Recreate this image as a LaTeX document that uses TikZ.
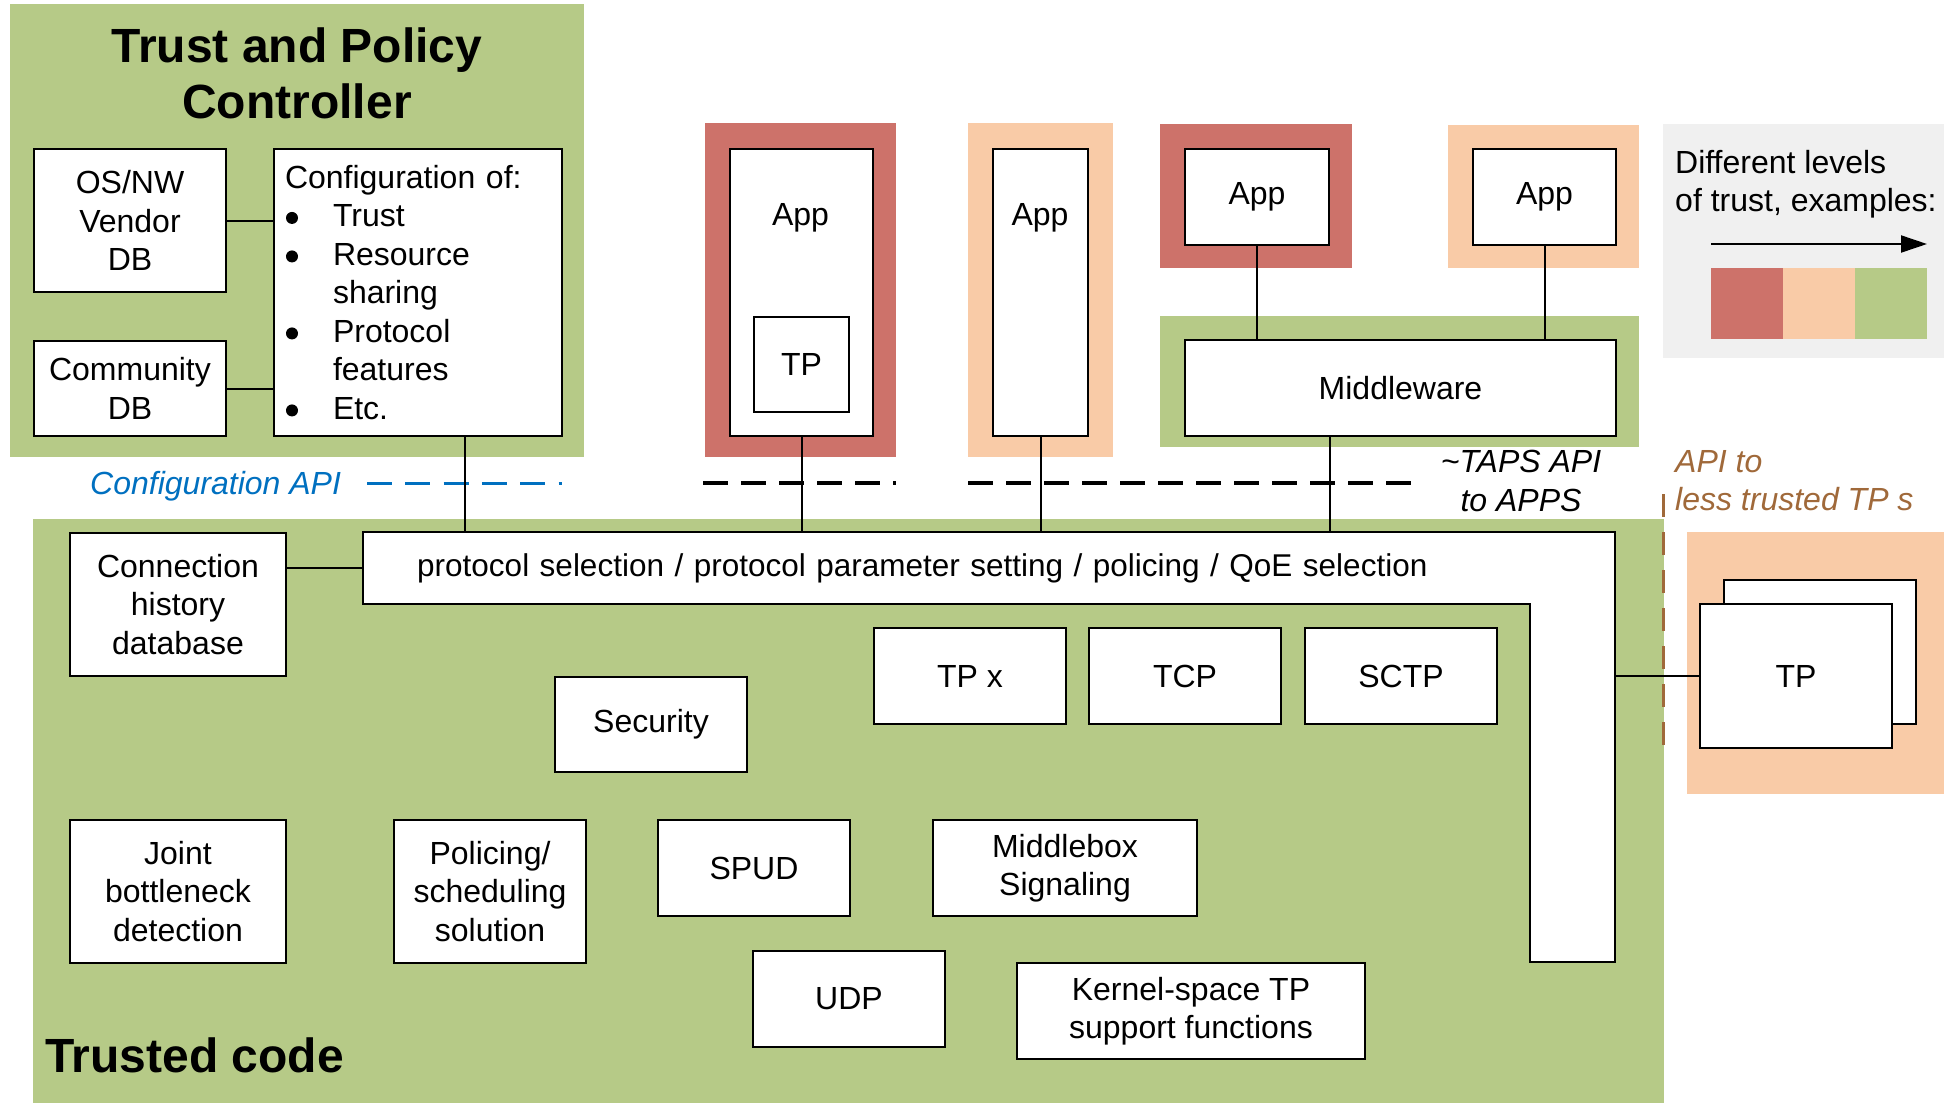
\documentclass[tikz,border=0pt]{standalone}
\usepackage{fontspec}
\setmainfont{Liberation Sans}
\usetikzlibrary{arrows.meta}
\definecolor{tgreen}{HTML}{B6CA87}
\definecolor{tred}{HTML}{CD726A}
\definecolor{tpeach}{HTML}{F9CBA7}
\definecolor{tgrey}{HTML}{F0F0F0}
\definecolor{tblue}{HTML}{0070C0}
\definecolor{tbrown}{HTML}{A0693A}
\newcommand\cfgbul{\hspace*{1pt}\tikz[x=1pt,y=1pt,baseline=-9pt]\fill (0,0) circle (6pt);\hspace*{35pt}}
\begin{document}
\begin{tikzpicture}[x=1pt,y=-1pt,
  every node/.style={font=\fontsize{32}{38.5}\selectfont, inner sep=0pt},
  box/.style={draw, line width=2pt, fill=white, align=center, anchor=north west},
  wire/.style={line width=2pt},
  bigbold/.style={font=\fontsize{48}{56}\selectfont\bfseries},
  ital/.style={font=\fontsize{32}{38.5}\selectfont\itshape}]
\useasboundingbox (0,0) rectangle (1944,1103);
\fill[white] (0,0) rectangle (1944,1103);
% backgrounds
\fill[tgreen] (10,4) rectangle (584,457);
\fill[tgreen] (33,519) rectangle (1664,1103);
\fill[tred] (705,123) rectangle (896,457);
\fill[tpeach] (968,123) rectangle (1113,457);
\fill[tred] (1160,124) rectangle (1352,268);
\fill[tpeach] (1448,125) rectangle (1639,268);
\fill[tgreen] (1160,316) rectangle (1639,447);
\fill[tgrey] (1663,124) rectangle (1944,358);
\fill[tpeach] (1687,532) rectangle (1944,794);
% trust and policy controller
\node[bigbold, align=center, anchor=north] (title) at (297,28) {Trust and Policy\\Controller};
\node[box, minimum width=192, minimum height=143] (osnw) at (33,148) {OS/NW\\Vendor\\DB};
\node[box, minimum width=192, minimum height=95] (comm) at (33,340) {Community\\DB};
\node[box, minimum width=288, minimum height=287, text width=266, inner xsep=11pt, align=left] (cfg) at (273,148)
 {Configuration of:\\
  \cfgbul Trust\\
  \cfgbul Resource\\
  \hspace*{48pt}sharing\\
  \cfgbul Protocol\\
  \hspace*{48pt}features\\
  \cfgbul Etc.};
% apps
\node[box, minimum width=143, minimum height=287] (app1) at (729,148) {};
\node[anchor=base] (app1t) at (800.5,225) {App};
\node[box, minimum width=95, minimum height=95] (tp1) at (753,316) {TP};
\node[box, minimum width=95, minimum height=287] (app2) at (992,148) {};
\node[anchor=base] (app2t) at (1040,225) {App};
\node[box, minimum width=144, minimum height=96] (app3) at (1184,148) {App};
\node[box, minimum width=143, minimum height=96] (app4) at (1472,148) {App};
\node[box, minimum width=431, minimum height=96] (mw) at (1184,339) {Middleware};
% legend
\node[align=left, anchor=north west] (legt) at (1675,150) {Different levels\\of trust, examples:};
\coordinate (arrs) at (1711,244);
\coordinate (arre) at (1927,244);
\draw[line width=2pt, -{Triangle[length=26pt,width=17pt]}] (arrs) -- (arre);
\fill[tred] (1711,268) rectangle (1783,339);
\fill[tpeach] (1783,268) rectangle (1855,339);
\fill[tgreen] (1855,268) rectangle (1927,339);
% API lines
\draw[tblue, line width=3pt, dash pattern=on 25pt off 13.3pt] (367,483) -- (562,483);
\draw[line width=4pt, dash pattern=on 24.7pt off 13.3pt] (703,483) -- (896,483);
\draw[line width=4pt, dash pattern=on 24.7pt off 13.3pt] (968,483) -- (1412,483);
\draw[tbrown, line width=3pt, dash pattern=on 23pt off 15pt] (1663,494) -- (1663,750);
\node[ital, text=tblue, anchor=base west] (capi) at (90,494) {Configuration API};
\node[ital, align=center, anchor=north] (taps) at (1521,450) {\textasciitilde TAPS API\\to APPS};
\node[ital, text=tbrown, align=left, anchor=north west] (apito) at (1675,450) {API to\\less trusted TP s};
% trusted code
\node[bigbold, anchor=base west] (tc) at (45,1072) {Trusted code};
\draw[line width=2pt, fill=white] (363,532) -- (1615,532) -- (1615,962) -- (1530,962) -- (1530,604) -- (363,604) -- cycle;
\node[anchor=north west, minimum width=1252, minimum height=72, text width=1144, inner xsep=54pt, align=left,
      font=\fontsize{31.5}{38}\selectfont] (proto) at (363,532)
 {protocol selection / protocol parameter setting / policing / QoE selection};
\node[box, minimum width=216, minimum height=143] (chist) at (69,532) {Connection\\history\\database};
\node[box, minimum width=192, minimum height=95] (secu) at (554,676) {Security};
\node[box, minimum width=192, minimum height=96] (tpx) at (873,627) {TP x};
\node[box, minimum width=192, minimum height=96] (tcp) at (1088,627) {TCP};
\node[box, minimum width=192, minimum height=96] (sctp) at (1304,627) {SCTP};
\node[box, minimum width=216, minimum height=143] (joint) at (69,819) {Joint\\bottleneck\\detection};
\node[box, minimum width=192, minimum height=143] (polic) at (393,819) {Policing/\\scheduling\\solution};
\node[box, minimum width=192, minimum height=96] (spud) at (657,819) {SPUD};
\node[box, minimum width=264, minimum height=96] (mbox) at (932,819) {Middlebox\\Signaling};
\node[box, minimum width=192, minimum height=96] (udp) at (752,950) {UDP};
\node[box, minimum width=348, minimum height=96] (kern) at (1016,962) {Kernel-space TP\\support functions};
% external TP
\node[box, minimum width=192, minimum height=144] (tpb) at (1723,579) {};
\node[box, minimum width=192, minimum height=144] (tpf) at (1699,603) {TP};
% connectors
\draw[wire] (osnw.east) -- (osnw.east -| cfg.west);
\draw[wire] (comm.east) -- (comm.east -| cfg.west);
\coordinate (cfgout) at ([xshift=192]cfg.south west);
\draw[wire] (cfgout) -- (cfgout |- proto.north);
\draw[wire] (app1.south) -- (app1.south |- proto.north);
\draw[wire] (app2.south) -- (app2.south |- proto.north);
\draw[wire] (app3.south) -- (app3.south |- mw.north);
\draw[wire] (app4.south) -- (app4.south |- mw.north);
\draw[wire] (app3.east |- mw.south) -- (app3.east |- proto.north);
\draw[wire] (chist.east |- proto.west) -- (proto.west);
\draw[wire] (proto.east |- tpf.west) -- (tpf.west);
\end{tikzpicture}
\end{document}
